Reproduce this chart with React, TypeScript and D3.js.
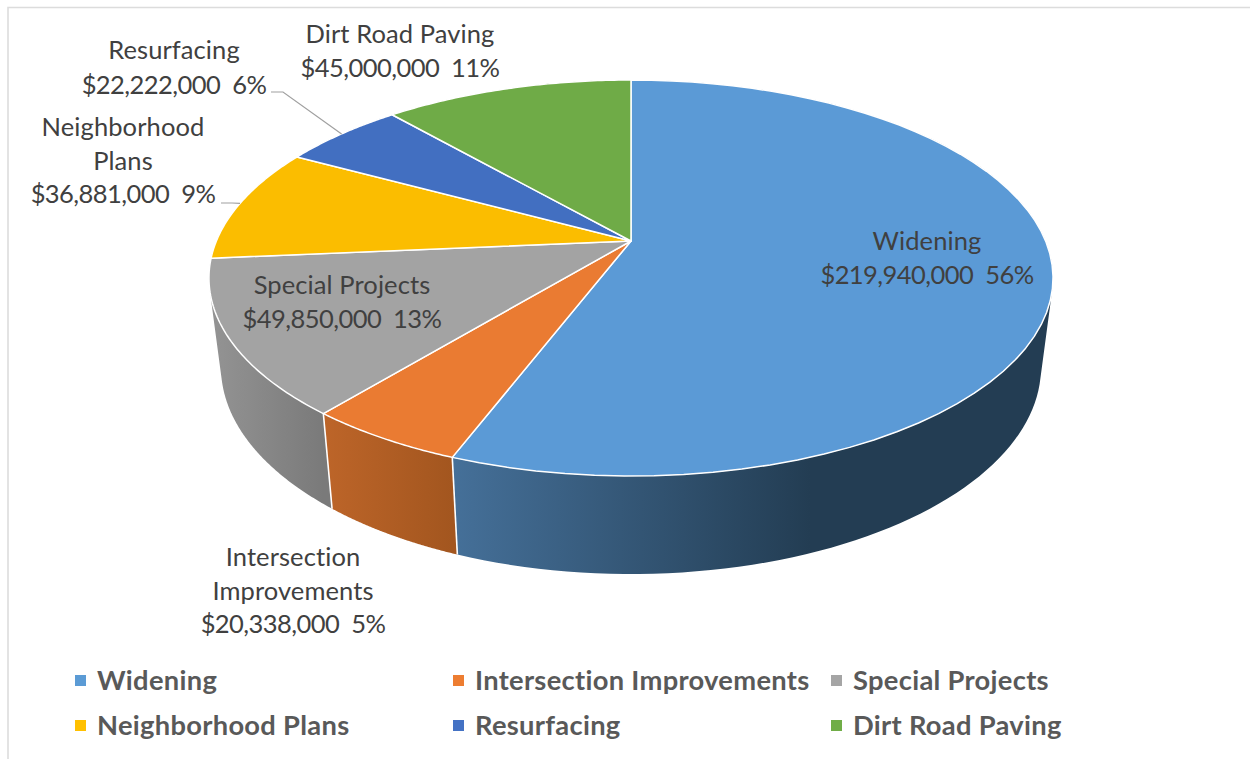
import React from "react";
import * as d3 from "d3";

const categories = ["Widening", "Intersection Improvements", "Special Projects", "Neighborhood Plans", "Resurfacing", "Dirt Road Paving"];
const values = [219940000, 20338000, 49850000, 36881000, 22222000, 45000000];
const colors = ["#5b9bd5", "#ed7d31", "#a5a5a5", "#ffc000", "#4472c4", "#70ad47"];
const topColors = ["#5b9ad6", "#ea7b32", "#a3a3a3", "#fbbd00", "#426fc1", "#6fab47"];
const sideFrom = ["#457099", "#bd6529", "#949494", "#b58a00", "#2f5090", "#4f7a33"];
const sideTo = ["#233d53", "#a3561f", "#7a7a7a", "#7f6000", "#203864", "#385723"];

// label layout: lines, centre x, first baseline, line step
const labelLines = [
  ["Widening", "$219,940,000  56%"],
  ["Intersection", "Improvements", "$20,338,000  5%"],
  ["Special Projects", "$49,850,000  13%"],
  ["Neighborhood", "Plans", "$36,881,000  9%"],
  ["Resurfacing", "$22,222,000  6%"],
  ["Dirt Road Paving", "$45,000,000  11%"],
];
const labelX = [927, 293, 342, 123, 174, 400];
const labelY = [250, 566, 294, 136, 59, 43];
const labelStep = [34, 33.5, 34, 33.5, 35, 34];
const legendX = [75, 453, 831, 75, 453, 831];
const legendY = [681, 681, 681, 726, 726, 726];

const W = 1250, H = 759;
const FONT = "Lato, Carlito, 'Open Sans', sans-serif";
const apexX = 631, apexY = 241;
const persp = -0.1869, ya = 146.05, radX = 414.6;
const topCy = 278, baseCy = 367, scaleBX = 410 / 422, scaleBY = 207 / 198;

const topPoint = (t: number): [number, number] => {
  const u = Math.sin(t), v = -Math.cos(t), w = 1 + persp * v;
  return [apexX + (radX * u) / w, (ya * v + apexY) / w];
};
const basePoint = (t: number): [number, number] => {
  const [x, y] = topPoint(t);
  return [apexX + (x - apexX) * scaleBX, baseCy + (y - topCy) * scaleBY];
};
const arcAngles = (a: number, b: number, n = 60) => d3.range(0, n + 1).map((i) => a + ((b - a) * i) / n);

export default function App() {
  const arcs = d3.pie<number>().sort(null)(values);
  const line = d3.line();
  const sideOrder = arcs.map((_, i) => i).reverse();
  return (
    <svg width={W} height={H} viewBox={`0 0 ${W} ${H}`} style={{ position: "absolute", left: 0, top: 0, display: "block", background: "#fff" }}>
      <defs>
        {arcs.map((d, i) => {
          const xs = arcAngles(d.startAngle, d.endAngle).map((t) => topPoint(t)[0]);
          const minX = i === 0 ? 452 : d3.min(xs)!;
          const maxX = i === 0 ? 810 : d3.max(xs)!;
          return (
            <linearGradient key={i} id={`side${i}`} gradientUnits="userSpaceOnUse" x1={minX} x2={maxX} y1={0} y2={0}>
              <stop offset="0" stopColor={sideFrom[i]} />
              <stop offset="1" stopColor={sideTo[i]} />
            </linearGradient>
          );
        })}
      </defs>
      <path d={`M8 759V7.5H${W}`} fill="none" stroke="#dcdcdc" strokeWidth={1.6} />
      {sideOrder.map((i) => {
        const d = arcs[i];
        const ts = arcAngles(d.startAngle, d.endAngle, 120);
        // union of small hulls, so the side's outline is the tangent silhouette of the two rims
        const path = d3
          .pairs(ts)
          .map(([a, b]) => {
            const hull = d3.polygonHull([topPoint(a), topPoint(b), basePoint(a), basePoint(b)]);
            return hull ? line(hull)! + "Z" : "";
          })
          .join("");
        return <path key={i} d={path} fill={`url(#side${i})`} fillRule="nonzero" />;
      })}
      {arcs
        .filter((d) => Math.cos(d.endAngle) < -0.5)
        .map((d, i) => (
          <path key={i} d={line([topPoint(d.endAngle), basePoint(d.endAngle)])!} stroke="#fff" strokeWidth={1.6} fill="none" />
        ))}
      {arcs.map((d, i) => {
        const pts: [number, number][] = [[apexX, apexY], ...arcAngles(d.startAngle, d.endAngle).map(topPoint)];
        return <path key={i} d={line(pts)! + "Z"} fill={topColors[i]} stroke="#fff" strokeWidth={1.5} strokeLinejoin="round" />;
      })}
      {[4, 3].map((i) => {
        const mid = (arcs[i].startAngle + arcs[i].endAngle) / 2;
        const [ex, ey] = topPoint(mid);
        const pts: [number, number][] = i === 4 ? [[271, 92], [283, 92], [ex, ey]] : [[221, 203], [232, 203], [ex, ey]];
        return <path key={i} d={line(pts)!} fill="none" stroke="#a0a0a0" strokeWidth={1.2} />;
      })}
      {labelLines.map((lines, i) =>
        lines.map((s, j) => (
          <text
            key={`${i}-${j}`}
            x={labelX[i]}
            y={labelY[i] + j * labelStep[i]}
            textAnchor="middle"
            fontFamily={FONT}
            fontSize={25.5}
            fill="#404040"
            letterSpacing={s.startsWith("$") ? -0.55 : 0.1}
            style={{ whiteSpace: "pre" }}
          >
            {s}
          </text>
        ))
      )}
      {categories.map((c, i) => (
        <g key={c}>
          <rect x={legendX[i]} y={legendY[i] - 6} width={11} height={11} fill={colors[i]} />
          <text x={legendX[i] + 22} y={legendY[i] + 9} fontFamily={FONT} fontWeight={700} fontSize={27.3} letterSpacing={0.3} fill="#595959">
            {c}
          </text>
        </g>
      ))}
    </svg>
  );
}
